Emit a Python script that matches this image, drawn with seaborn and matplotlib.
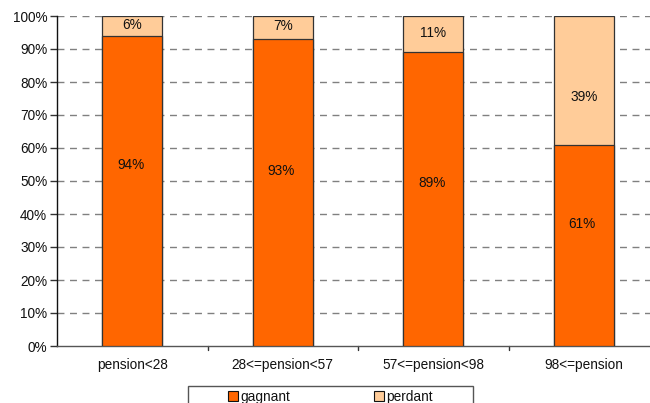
import matplotlib
matplotlib.use("Agg")
import matplotlib.pyplot as plt
import seaborn as sns
import pandas as pd
from matplotlib.patches import Patch, Rectangle

categories = ["pension<28", "28<=pension<57", "57<=pension<98", "98<=pension"]
gagnant = [94, 93, 89, 61]
perdant = [6, 7, 11, 39]
series_names = ["gagnant", "perdant"]
y_ticks = [0, 10, 20, 30, 40, 50, 60, 70, 80, 90, 100]

# label heights (data units) inside each segment
gagnant_label_y = [54.8, 53.0, 49.4, 37.0]
perdant_label_y = [97.3, 97.0, 94.8, 75.5]

dark = "#FF6600"
light = "#FFCC99"
fs = 9.8

sns.set_theme(style="white")
plt.rcParams["font.family"] = ["Liberation Sans", "DejaVu Sans"]

df = pd.DataFrame({
    "cat": categories,
    "total": [g + p for g, p in zip(gagnant, perdant)],
    "gagnant": gagnant,
})

fig = plt.figure(figsize=(6.5, 4.03), dpi=100)
ax = fig.add_axes([57 / 650, 1 - 346 / 403, 602 / 650, 330 / 403])

for y in y_ticks[1:]:
    ax.axhline(y, color="#808080", lw=1.0, ls=(0, (5, 4)), zorder=0)

sns.barplot(data=df, x="cat", y="total", color=light, width=0.4,
            edgecolor="#333333", linewidth=0.9, saturation=1, ax=ax, zorder=2)
sns.barplot(data=df, x="cat", y="gagnant", color=dark, width=0.4,
            edgecolor="#333333", linewidth=0.9, saturation=1, ax=ax, zorder=3)

for i in range(len(categories)):
    ax.text(i - 0.01, gagnant_label_y[i], f"{gagnant[i]}%", ha="center", va="center",
            fontsize=fs, color="#111111", zorder=4)
    ax.text(i + 0.0, perdant_label_y[i], f"{perdant[i]}%", ha="center", va="center",
            fontsize=fs, color="#111111", zorder=4)

ax.set_xlim(-0.5, 3.5)
ax.set_ylim(0, 100)
ax.set_yticks(y_ticks)
ax.set_yticklabels([f"{v}%" for v in y_ticks], fontsize=fs, color="#111111")
ax.set_xticks(range(len(categories)))
ax.set_xticklabels(categories, fontsize=fs, color="#111111")
ax.tick_params(axis="x", length=0, pad=9)
ax.tick_params(axis="y", length=5, width=1, color="#333333", direction="out", pad=2, left=True)
for b in [0.5, 1.5, 2.5]:
    ax.plot([b, b], [0, -1.2], color="#333333", lw=1, clip_on=False)
ax.set_xlabel("")
ax.set_ylabel("")
for s in ["top", "right"]:
    ax.spines[s].set_visible(False)
ax.spines["left"].set_color("#111111")
ax.spines["bottom"].set_color("#555555")
ax.spines["left"].set_linewidth(1)
ax.spines["bottom"].set_linewidth(1)

# legend box (extends past the bottom edge of the figure)
fig.patches.append(Rectangle((188 / 650, 1 - 420 / 403), 285 / 650, 34 / 403,
                             transform=fig.transFigure, facecolor="white",
                             edgecolor="#555555", lw=1, zorder=1))
handles = [Patch(facecolor=dark, edgecolor="#111111", lw=0.8),
           Patch(facecolor=light, edgecolor="#111111", lw=0.8)]
leg = fig.legend(handles, series_names, loc="center left",
                 bbox_to_anchor=(228 / 650, 1 - 397 / 403), ncol=2,
                 fontsize=fs, frameon=False, borderpad=0,
                 handlelength=0.75, handleheight=0.75, handletextpad=0.15,
                 columnspacing=6.15, borderaxespad=0)
leg.set_zorder(2)
for t in leg.get_texts():
    t.set_color("#111111")

fig.savefig("out.png", dpi=100)
